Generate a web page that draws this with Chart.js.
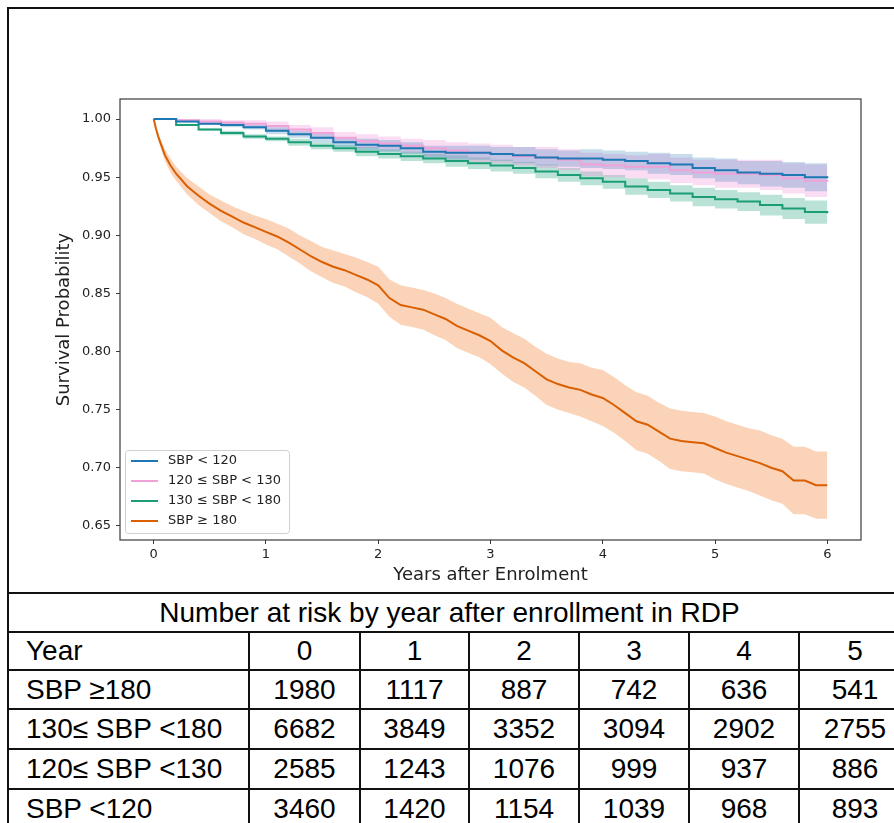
<!DOCTYPE html>
<html>
<head>
<meta charset="utf-8">
<script src="https://cdn.jsdelivr.net/npm/chart.js@4.4.1/dist/chart.umd.min.js"></script>
<style>
  html, body { margin: 0; padding: 0; background: #fff; }
  body { width: 894px; height: 823px; overflow: hidden; position: relative; }
  #frame { position: absolute; left: 7px; top: 7px; width: 900px; height: 900px;
           border-left: 2px solid #111; border-top: 2px solid #111; }
  #km { position: absolute; left: 0; top: 0; }
  #risk { position: absolute; left: 7px; top: 592px; width: 903px; border-collapse: collapse; table-layout: fixed;
          font-family: "Liberation Sans", Arial, sans-serif; font-size: 28px; color: #000; }
  #risk td { border: 2px solid #111; padding: 0; text-align: center; white-space: nowrap; overflow: hidden; }
  #risk td.lab { text-align: left; padding-left: 17px; }
  #risk td.ttl { padding-right: 20px; }
</style>
</head>
<body>
<div id="frame"></div>
<canvas id="km" width="894" height="592"></canvas>
<table id="risk"></table>
<script>
const groupLabels = ["SBP < 120", "120 ≤ SBP < 130", "130 ≤ SBP < 180", "SBP ≥ 180"];
const groupColors = ["#1f77b4", "#f0a2d8", "#1b9e77", "#d95f02"];
const bandColors = ["rgba(31,119,180,0.25)", "rgba(238,140,215,0.3)", "rgba(27,158,119,0.3)", "rgba(240,120,40,0.33)"];

const xTicks = [0, 1, 2, 3, 4, 5, 6];
const yTicks = [0.65, 0.70, 0.75, 0.80, 0.85, 0.90, 0.95, 1.00];

// time points for the three lower groups (years)
const yearsLow = [0, 0.2, 0.4, 0.6, 0.8, 1.0, 1.2, 1.4, 1.6, 1.8, 2.0, 2.2, 2.4, 2.6, 2.8, 3.0,
  3.2, 3.4, 3.6, 3.8, 4.0, 4.2, 4.4, 4.6, 4.8, 5.0, 5.2, 5.4, 5.6, 5.8, 6.0];

const blueS    = [1.000,0.998,0.996,0.995,0.993,0.990,0.987,0.984,0.980,0.978,0.977,0.975,0.972,0.971,0.971,0.970,0.969,0.967,0.966,0.966,0.965,0.964,0.962,0.961,0.958,0.956,0.954,0.953,0.952,0.950,0.949];
const blueLow  = [1.000,0.997,0.995,0.993,0.991,0.987,0.984,0.980,0.976,0.973,0.972,0.970,0.967,0.965,0.965,0.964,0.962,0.960,0.959,0.958,0.957,0.956,0.953,0.952,0.949,0.946,0.944,0.942,0.941,0.938,0.937];
const blueHigh = [1.000,0.999,0.997,0.997,0.995,0.993,0.990,0.988,0.984,0.983,0.982,0.980,0.977,0.977,0.977,0.976,0.976,0.974,0.973,0.974,0.973,0.972,0.971,0.970,0.967,0.966,0.964,0.964,0.963,0.962,0.961];

const pinkS    = [1.000,0.999,0.998,0.997,0.996,0.994,0.991,0.988,0.984,0.981,0.979,0.977,0.975,0.973,0.971,0.970,0.968,0.967,0.965,0.961,0.960,0.959,0.959,0.956,0.954,0.953,0.953,0.952,0.949,0.947,0.946];
const pinkLow  = [1.000,0.998,0.996,0.995,0.993,0.990,0.987,0.983,0.979,0.975,0.973,0.971,0.968,0.966,0.963,0.962,0.960,0.958,0.956,0.951,0.950,0.949,0.948,0.945,0.943,0.941,0.941,0.939,0.936,0.933,0.932];
const pinkHigh = [1.000,1.000,1.000,0.999,0.999,0.998,0.995,0.993,0.989,0.987,0.985,0.983,0.982,0.980,0.979,0.978,0.976,0.976,0.974,0.971,0.970,0.969,0.970,0.967,0.965,0.965,0.965,0.965,0.962,0.961,0.960];

const greenS    = [1.000,0.995,0.991,0.988,0.985,0.983,0.980,0.977,0.975,0.972,0.970,0.968,0.966,0.964,0.962,0.960,0.958,0.955,0.952,0.949,0.946,0.942,0.939,0.936,0.933,0.931,0.929,0.926,0.923,0.920,0.919];
const greenLow  = [1.000,0.994,0.990,0.986,0.983,0.981,0.977,0.974,0.972,0.968,0.966,0.964,0.962,0.959,0.957,0.955,0.953,0.949,0.946,0.943,0.940,0.935,0.932,0.929,0.925,0.923,0.921,0.917,0.914,0.910,0.909];
const greenHigh = [1.000,0.996,0.992,0.990,0.987,0.985,0.983,0.980,0.978,0.976,0.974,0.972,0.970,0.969,0.967,0.965,0.963,0.961,0.958,0.955,0.952,0.949,0.946,0.943,0.941,0.939,0.937,0.935,0.932,0.930,0.929];

// SBP >= 180 drops fast early, so finer time points
const yearsHigh = [0, 0.02, 0.04, 0.07, 0.1, 0.15, 0.2, 0.3, 0.4, 0.5, 0.6, 0.7, 0.8, 0.9, 1.0,
  1.1, 1.2, 1.3, 1.4, 1.5, 1.6, 1.7, 1.8, 1.9, 2.0, 2.1, 2.2, 2.3, 2.4, 2.5, 2.6, 2.7, 2.8, 2.9, 3.0,
  3.1, 3.2, 3.3, 3.4, 3.5, 3.6, 3.7, 3.8, 3.9, 4.0, 4.1, 4.2, 4.3, 4.4, 4.5, 4.6, 4.7, 4.8, 4.9, 5.0,
  5.1, 5.2, 5.3, 5.4, 5.5, 5.6, 5.7, 5.8, 5.9, 6.0];
const orangeS = [1.000,0.992,0.985,0.977,0.969,0.960,0.953,0.942,0.934,0.927,0.921,0.916,0.911,0.907,0.903,
  0.899,0.894,0.888,0.882,0.877,0.873,0.870,0.866,0.862,0.857,0.846,0.840,0.838,0.836,0.832,0.828,0.822,0.818,0.814,0.809,
  0.801,0.795,0.790,0.783,0.776,0.772,0.769,0.767,0.763,0.760,0.754,0.747,0.740,0.737,0.731,0.725,0.723,0.722,0.721,0.717,
  0.713,0.710,0.707,0.704,0.700,0.697,0.689,0.689,0.685,0.685];
const orangeLow = [1.000,0.990,0.982,0.973,0.964,0.954,0.947,0.935,0.926,0.919,0.912,0.907,0.901,0.897,0.892,
  0.888,0.882,0.876,0.869,0.864,0.859,0.856,0.851,0.847,0.841,0.830,0.823,0.821,0.819,0.814,0.810,0.803,0.799,0.795,0.789,
  0.781,0.774,0.769,0.762,0.754,0.750,0.747,0.744,0.740,0.736,0.730,0.723,0.715,0.712,0.706,0.699,0.697,0.696,0.695,0.690,
  0.686,0.683,0.680,0.676,0.672,0.669,0.660,0.660,0.656,0.656];
const orangeHigh = [1.000,0.994,0.988,0.981,0.974,0.966,0.959,0.949,0.942,0.935,0.930,0.925,0.921,0.917,0.914,
  0.910,0.906,0.900,0.895,0.890,0.887,0.884,0.881,0.877,0.873,0.862,0.857,0.855,0.853,0.850,0.846,0.841,0.837,0.833,0.829,
  0.821,0.816,0.811,0.804,0.798,0.794,0.791,0.790,0.786,0.784,0.778,0.771,0.765,0.762,0.756,0.751,0.749,0.748,0.747,0.744,
  0.740,0.737,0.734,0.732,0.728,0.725,0.718,0.718,0.714,0.714];

// number at risk table
const riskYears = [0, 1, 2, 3, 4, 5];
const riskLabels = ["SBP ≥180", "130≤ SBP <180", "120≤ SBP <130", "SBP <120"];
const riskHigh  = [1980, 1117, 887, 742, 636, 541];
const riskMid   = [6682, 3849, 3352, 3094, 2902, 2755];
const riskLowMid = [2585, 1243, 1076, 999, 937, 886];
const riskLowest = [3460, 1420, 1154, 1039, 968, 893];

function pts(xs, ys) { return xs.map((x, i) => ({ x: x, y: ys[i] })); }

// last entry: stepped or not (the orange one is read too coarsely for visible stairs)
const groups = [
  [yearsLow, blueS, blueLow, blueHigh, true],
  [yearsLow, pinkS, pinkLow, pinkHigh, true],
  [yearsLow, greenS, greenLow, greenHigh, true],
  [yearsHigh, orangeS, orangeLow, orangeHigh, false]
];

const datasets = [];
groups.forEach((g, i) => {
  datasets.push({ data: pts(g[0], g[2]), borderWidth: 0, pointRadius: 0, stepped: g[4], fill: false });
  datasets.push({ data: pts(g[0], g[3]), borderWidth: 0, pointRadius: 0, stepped: g[4],
                  fill: '-1', backgroundColor: bandColors[i] });
});
groups.forEach((g, i) => {
  datasets.push({ label: groupLabels[i], data: pts(g[0], g[1]), borderColor: groupColors[i],
                  borderWidth: 2, pointRadius: 0, stepped: g[4], fill: false });
});

const font = "DejaVu Sans";

const framePlugin = {
  id: 'frame',
  afterDatasetsDraw(chart) {
    const a = chart.chartArea, ctx = chart.ctx;
    ctx.save();
    ctx.strokeStyle = '#3a3a3a';
    ctx.lineWidth = 1.2;
    ctx.strokeRect(a.left, a.top, a.right - a.left, a.bottom - a.top);

    // legend box, lower left inside the axes
    ctx.beginPath();
    ctx.roundRect(125.5, 450.5, 164, 83, 3);
    ctx.fillStyle = 'rgba(255,255,255,0.8)';
    ctx.fill();
    ctx.strokeStyle = '#d0d0d0';
    ctx.lineWidth = 1;
    ctx.stroke();
    ctx.font = '13px ' + font;
    ctx.textBaseline = 'middle';
    groupLabels.forEach((lab, i) => {
      const y = 461 + i * 20;
      ctx.strokeStyle = groupColors[i];
      ctx.lineWidth = 2;
      ctx.beginPath();
      ctx.moveTo(131, y);
      ctx.lineTo(158, y);
      ctx.stroke();
      ctx.fillStyle = '#222';
      ctx.fillText(lab, 168, y);
    });
    ctx.restore();
  }
};

new Chart(document.getElementById('km'), {
  type: 'line',
  data: { datasets: datasets },
  options: {
    responsive: false,
    animation: false,
    devicePixelRatio: 1,
    layout: { padding: { top: 99, right: 33, left: 0, bottom: 0 } },
    plugins: {
      legend: { display: false },
      tooltip: { enabled: false },
      filler: { drawTime: 'beforeDatasetsDraw' }
    },
    scales: {
      x: {
        type: 'linear', min: -0.3, max: 6.3,
        afterBuildTicks: s => { s.ticks = xTicks.map(v => ({ value: v })); },
        afterFit: s => { s.height = 52; },
        ticks: { callback: v => String(v), font: { family: font, size: 13 }, color: '#222', padding: 3 },
        grid: { drawOnChartArea: false, drawTicks: true, tickLength: 4, color: '#3a3a3a' },
        border: { display: false },
        title: { display: true, text: 'Years after Enrolment', font: { family: font, size: 18 },
                 color: '#222', padding: { top: 0, bottom: 6 } }
      },
      y: {
        type: 'linear', min: 0.6378, max: 1.0173,
        afterBuildTicks: s => { s.ticks = yTicks.map(v => ({ value: v })); },
        afterFit: s => { s.width = 120; },
        ticks: { callback: v => v.toFixed(2), font: { family: font, size: 13 }, color: '#222', padding: 5 },
        grid: { drawOnChartArea: false, drawTicks: true, tickLength: 4, color: '#3a3a3a' },
        border: { display: false },
        title: { display: true, text: 'Survival Probability', font: { family: font, size: 18 },
                 color: '#222', padding: { top: 54, bottom: 0 } }
      }
    }
  },
  plugins: [framePlugin]
});

// build the table
const table = document.getElementById('risk');
const colWidths = [241, 111, 109, 110, 110, 110, 112];
const rowHeights = [39, 38, 39, 40, 40, 40];
let html = '<colgroup>' + colWidths.map(w => `<col style="width:${w}px">`).join('') + '</colgroup>';
html += `<tr style="height:${rowHeights[0]}px"><td class="ttl" colspan="7">Number at risk by year after enrollment in RDP</td></tr>`;
html += `<tr style="height:${rowHeights[1]}px"><td class="lab">Year</td>` + riskYears.map(y => `<td>${y}</td>`).join('') + '</tr>';
[riskHigh, riskMid, riskLowMid, riskLowest].forEach((row, i) => {
  html += `<tr style="height:${rowHeights[i + 2]}px"><td class="lab">${riskLabels[i]}</td>` +
          row.map(v => `<td>${v}</td>`).join('') + '</tr>';
});
table.innerHTML = html;
</script>
</body>
</html>
